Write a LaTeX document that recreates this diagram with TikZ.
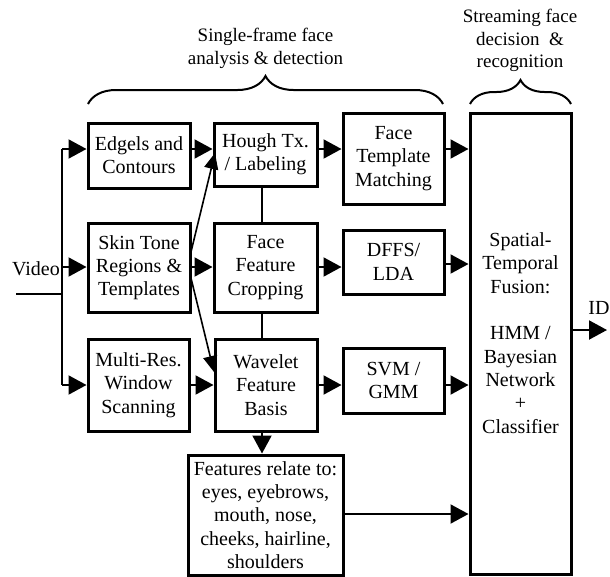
\documentclass[tikz,border=0pt]{standalone}
\usepackage{fontspec}
\setmainfont{Liberation Serif}
\usetikzlibrary{arrows.meta,decorations.pathreplacing}

\tikzset{
  stage/.style={draw, line width=3pt, align=center, inner sep=0pt,
    font=\fontsize{20}{23.3}\selectfont},
  label/.style={align=center, inner sep=0pt, font=\fontsize{20}{23.3}\selectfont},
  head/.style={align=center, inner sep=0pt, font=\fontsize{19}{22.5}\selectfont},
  link/.style={line width=2pt},
  flow/.style={line width=2pt, -{Triangle[length=18pt,width=19pt]}},
  thin flow/.style={line width=1.6pt, -{Triangle[length=16pt,width=14pt]}},
  curly/.style={line width=2pt, decorate, decoration={brace, amplitude=#1}},
}

\begin{document}
\begin{tikzpicture}[x=1pt, y=-1pt]
\useasboundingbox (0,0) rectangle (610,576);

% headings and braces
\node[head] (h1) at (265.5,48.5) {Single-frame face\\analysis \& detection};
\node[head] (h2) at (520,40.5) {Streaming face\\decision~ \&\\recognition};
\coordinate (b1l) at (88,104);
\coordinate (b1r) at (443,104);
\coordinate (b2l) at (470,104);
\coordinate (b2r) at (571,104);
\draw[curly=28pt] (b1l) -- (b1r);
\draw[curly=24pt] (b2l) -- (b2r);

% processing stages
\node[stage, minimum width=102pt, minimum height=65pt] (edg)   at (139,155.5)   {Edgels and\\Contours};
\node[stage, minimum width=103pt, minimum height=63pt] (hough) at (265.5,154.5) {Hough Tx.\\/ Labeling};
\node[stage, minimum width=101pt, minimum height=91pt] (tmpl)  at (393.5,158.5) {Face\\Template\\Matching};
\node[stage, minimum width=102pt, minimum height=89pt] (skin)  at (139,267.5)   {Skin Tone\\Regions \&\\Templates};
\node[stage, minimum width=103pt, minimum height=89pt] (crop)  at (265.5,267.5) {Face\\Feature\\Cropping};
\node[stage, minimum width=101pt, minimum height=64pt] (dffs)  at (393.5,262)   {DFFS/\\LDA};
\node[stage, minimum width=101pt, minimum height=92pt] (multi) at (138.5,385)   {Multi-Res.\\Window\\Scanning};
\node[stage, minimum width=102pt, minimum height=92pt] (wav)   at (266,385)     {Wavelet\\Feature\\Basis};
\node[stage, minimum width=101pt, minimum height=65pt] (svm)   at (393.5,380.5) {SVM /\\GMM};
\node[stage, minimum width=155pt, minimum height=120pt] (feat) at (265.5,515)
  {Features relate to:\\eyes, eyebrows,\\mouth, nose,\\cheeks, hairline,\\shoulders};
\node[stage, minimum width=101pt, minimum height=461pt] (fus)  at (520.5,343.5) {};
\node[label] (fustxt) at (520.5,333)
  {Spatial-\\Temporal\\Fusion:\\[23.3pt]HMM /\\Bayesian\\Network\\+\\Classifier};

% video input and its fan-out
\node[label] (video) at (36,269) {Video};
\coordinate (vin)  at (16,294);
\coordinate (vtop) at (62,149);
\coordinate (vmid) at (62,267);
\coordinate (vbot) at (62,385);
\draw[link] (vin) -- (vin -| vtop);
\draw[link] (vtop) -- (vbot);
\draw[flow] (vtop) -- (vtop -| edg.west);
\draw[flow] (vmid) -- (vmid -| skin.west);
\draw[flow] (vbot) -- (vbot -| multi.west);

% top row
\draw[flow] (edg.east |- vtop) -- (hough.west |- vtop);
\draw[flow] (hough.east |- vtop) -- (tmpl.west |- vtop);
\draw[flow] (tmpl.east |- vtop) -- (fus.west |- vtop);

% middle row
\coordinate (rmid) at (0,267);
\coordinate (rdffs) at (0,264);
\draw[flow] (skin.east |- rmid) -- (crop.west |- rmid);
\draw[flow] (crop.east |- rmid) -- (dffs.west |- rmid);
\draw[flow] (dffs.east |- rdffs) -- (fus.west |- rdffs);

% bottom row
\draw[flow] (multi.east |- vbot) -- (wav.west |- vbot);
\draw[flow] (wav.east |- vbot) -- (svm.west |- vbot);
\draw[flow] (svm.east |- vbot) -- (fus.west |- vbot);

% skin tone cues feeding Hough and wavelet stages
\coordinate (sup) at (190,256);
\coordinate (sdn) at (190,274);
\coordinate (hin) at (215,153);
\coordinate (win) at (214,372);
\draw[thin flow] (sup) -- (hin);
\draw[thin flow] (sdn) -- (win);

% vertical links in the centre column
\coordinate (cx) at (262,0);
\draw[link] (hough.south -| cx) -- (crop.north -| cx);
\draw[link] (crop.south -| cx) -- (wav.north -| cx);
\draw[flow] (wav.south -| cx) -- (feat.north -| cx);

% facial features to fusion
\coordinate (rfeat) at (0,514);
\draw[flow] (feat.east |- rfeat) -- (fus.west |- rfeat);

% output
\coordinate (idout) at (607,330);
\draw[flow] (fus.east |- idout) -- (idout);
\node[label] (id) at (599,308) {ID};
\end{tikzpicture}
\end{document}
